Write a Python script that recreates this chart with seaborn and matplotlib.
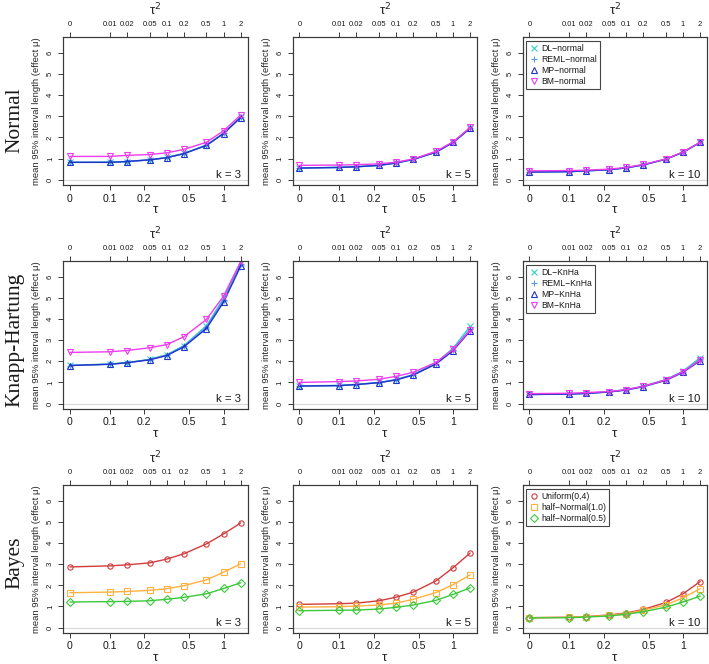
import numpy as np
import seaborn as sns
import matplotlib
matplotlib.use("Agg")
import matplotlib.pyplot as plt
from matplotlib.lines import Line2D

# x values: heterogeneity tau^2 (top axis) and tau (bottom axis)
tau2 = [0, 0.01, 0.02, 0.05, 0.1, 0.2, 0.5, 1, 2]
tau2_labels = ["0", "0.01", "0.02", "0.05", "0.1", "0.2", "0.5", "1", "2"]
tau_ticks = [0, 0.1, 0.2, 0.5, 1]
tau_labels = ["0", "0.1", "0.2", "0.5", "1"]
k_values = [3, 5, 10]
row_names = ["Normal", "Knapp-Hartung", "Bayes"]

# mean 95% interval length, normal approximation
dl_normal = {3: [0.82, 0.83, 0.86, 0.94, 1.05, 1.24, 1.64, 2.20, 2.97],
             5: [0.55, 0.58, 0.61, 0.68, 0.79, 0.96, 1.31, 1.77, 2.45],
             10: [0.36, 0.38, 0.42, 0.47, 0.56, 0.70, 0.97, 1.30, 1.77]}
reml_normal = {3: [0.82, 0.82, 0.86, 0.93, 1.04, 1.23, 1.63, 2.19, 2.95],
               5: [0.55, 0.58, 0.61, 0.68, 0.79, 0.96, 1.30, 1.76, 2.44],
               10: [0.36, 0.38, 0.42, 0.47, 0.56, 0.70, 0.97, 1.30, 1.76]}
mp_normal = {3: [0.82, 0.82, 0.86, 0.94, 1.04, 1.23, 1.62, 2.18, 2.94],
             5: [0.55, 0.58, 0.61, 0.68, 0.79, 0.96, 1.30, 1.76, 2.43],
             10: [0.36, 0.38, 0.42, 0.47, 0.56, 0.70, 0.97, 1.30, 1.76]}
bm_normal = {3: [1.10, 1.10, 1.15, 1.19, 1.27, 1.43, 1.77, 2.31, 3.06],
             5: [0.68, 0.69, 0.71, 0.75, 0.83, 0.98, 1.34, 1.79, 2.47],
             10: [0.42, 0.43, 0.45, 0.50, 0.58, 0.72, 0.98, 1.31, 1.77]}

# Knapp-Hartung adjustment
dl_knha = {3: [1.81, 1.87, 1.94, 2.09, 2.31, 2.74, 3.68, 4.98, 6.65],
           5: [0.84, 0.86, 0.91, 1.00, 1.14, 1.38, 1.93, 2.62, 3.66],
           10: [0.43, 0.46, 0.49, 0.56, 0.66, 0.82, 1.14, 1.54, 2.17]}
reml_knha = {3: [1.80, 1.86, 1.93, 2.08, 2.29, 2.71, 3.62, 4.90, 6.58],
             5: [0.83, 0.85, 0.90, 0.99, 1.13, 1.36, 1.89, 2.55, 3.52],
             10: [0.43, 0.45, 0.48, 0.55, 0.65, 0.81, 1.12, 1.51, 2.10]}
mp_knha = {3: [1.80, 1.86, 1.93, 2.07, 2.27, 2.68, 3.55, 4.80, 6.50],
           5: [0.83, 0.85, 0.90, 0.99, 1.12, 1.35, 1.87, 2.50, 3.44],
           10: [0.43, 0.45, 0.48, 0.55, 0.64, 0.80, 1.10, 1.48, 2.03]}
bm_knha = {3: [2.42, 2.45, 2.51, 2.64, 2.79, 3.16, 3.98, 5.08, 6.72],
           5: [1.00, 1.04, 1.07, 1.15, 1.29, 1.48, 1.95, 2.56, 3.47],
           10: [0.47, 0.49, 0.52, 0.57, 0.66, 0.82, 1.12, 1.51, 2.06]}

# Bayes, three priors for tau
unif_bayes = {3: [2.87, 2.92, 2.97, 3.06, 3.24, 3.49, 3.96, 4.43, 4.95],
              5: [1.10, 1.13, 1.16, 1.27, 1.44, 1.68, 2.21, 2.83, 3.53],
              10: [0.47, 0.49, 0.52, 0.60, 0.69, 0.86, 1.19, 1.60, 2.18]}
hn1_bayes = {3: [1.65, 1.68, 1.71, 1.76, 1.84, 1.98, 2.26, 2.62, 3.02],
             5: [0.97, 0.99, 1.02, 1.07, 1.16, 1.34, 1.66, 2.03, 2.50],
             10: [0.47, 0.49, 0.52, 0.58, 0.66, 0.82, 1.08, 1.41, 1.84]}
hn05_bayes = {3: [1.21, 1.23, 1.24, 1.27, 1.34, 1.43, 1.60, 1.85, 2.12],
              5: [0.80, 0.82, 0.83, 0.88, 0.96, 1.07, 1.29, 1.57, 1.88],
              10: [0.46, 0.47, 0.50, 0.55, 0.63, 0.75, 0.97, 1.21, 1.49]}

c_dl, c_reml, c_mp, c_bm = "#2ED0D0", "#5A9BE6", "#2233C8", "#EE3CEE"
c_unif, c_hn1, c_hn05 = "#D23C3C", "#FFB040", "#3CC83C"

rows = [
    [("DL\u2212normal", dl_normal, c_dl, "x"),
     ("REML\u2212normal", reml_normal, c_reml, "+"),
     ("MP\u2212normal", mp_normal, c_mp, "^"),
     ("BM\u2212normal", bm_normal, c_bm, "v")],
    [("DL\u2212KnHa", dl_knha, c_dl, "x"),
     ("REML\u2212KnHa", reml_knha, c_reml, "+"),
     ("MP\u2212KnHa", mp_knha, c_mp, "^"),
     ("BM\u2212KnHa", bm_knha, c_bm, "v")],
    [("Uniform(0,4)", unif_bayes, c_unif, "o"),
     ("half\u2212Normal(1.0)", hn1_bayes, c_hn1, "s"),
     ("half\u2212Normal(0.5)", hn05_bayes, c_hn05, "D")],
]

sns.set_style("white")
plt.rcParams["font.family"] = ["Liberation Sans", "DejaVu Sans"]
plt.rcParams["text.color"] = "#1a1a1a"

# log(tau) scale, with tau = 0 put a fixed gap left of tau = 0.1
GAP = 0.81
L01 = np.log(0.1)


def fwd(t):
    t = np.asarray(t, dtype=float)
    return np.where(t >= 0.1, np.log(np.maximum(t, 0.1)), L01 - GAP + t / 0.1 * GAP)


def inv(u):
    u = np.asarray(u, dtype=float)
    return np.where(u >= L01, np.exp(np.minimum(u, 50)), (u - L01 + GAP) / GAP * 0.1)


tau = np.sqrt(tau2)
u0, u1 = fwd(tau[0]), fwd(tau[-1])
du = 0.04 * (u1 - u0)
xlim = (float(inv(u0 - du)), float(inv(u1 + du)))
spine_col = "#3a3a3a"

fig = plt.figure(figsize=(7.09, 6.64), dpi=100)
lefts = [0.0889, 0.4126, 0.7370]
bottoms = [0.7211, 0.3839, 0.0465]
w, h = 0.2602, 0.2236
label_y = [120, 340, 563]

for r in range(3):
    for c in range(3):
        k = k_values[c]
        ax = fig.add_axes([lefts[c], bottoms[r], w, h])
        ax.set_xscale("function", functions=(fwd, inv))
        ax.axhline(0, color="#d8d8d8", lw=0.8, zorder=0)
        for name, vals, color, marker in rows[r]:
            sns.lineplot(x=tau, y=vals[k], ax=ax, color=color, marker=marker,
                         mfc="none", mec=color, ms=3.8, mew=0.8, lw=1.0,
                         legend=False)
        ax.set_xlim(xlim)
        ax.set_ylim(-0.26, 6.76)
        ax.set_xticks(tau_ticks)
        ax.set_xticklabels(tau_labels)
        ax.set_yticks(range(7))
        ax.tick_params(axis="x", labelsize=7.6, length=3.5, width=0.7, pad=2.5,
                       color=spine_col, labelcolor="#1a1a1a", bottom=True)
        ax.tick_params(axis="y", labelsize=5.6, length=3.5, width=0.7, pad=3,
                       color=spine_col, labelcolor="#1a1a1a", left=True,
                       labelrotation=90)
        for lab in ax.get_yticklabels():
            lab.set_va("center")
        ax.set_xlabel("\u03c4", fontsize=9.5)
        ax.xaxis.set_label_coords(0.5, -0.125)
        ax.set_ylabel("mean 95% interval length (effect \u03bc)", fontsize=6.8)
        ax.yaxis.set_label_coords(-0.118, 0.5)
        for s in ax.spines.values():
            s.set_color(spine_col)
            s.set_linewidth(0.8)
        ax.text(0.965, 0.07, f"k = {k}", transform=ax.transAxes,
                ha="right", va="center", fontsize=8.2)

        top = ax.twiny()
        top.set_xscale("function", functions=(fwd, inv))
        top.set_xlim(xlim)
        top.set_xticks(np.sqrt(tau2))
        top.set_xticklabels(tau2_labels)
        top.tick_params(axis="x", labelsize=5.5, length=3.5, width=0.7, pad=3,
                        color=spine_col, labelcolor="#1a1a1a")
        top.set_xlabel("\u03c4$^2$", fontsize=9.5)
        top.xaxis.set_label_coords(0.5, 1.145)
        for s in top.spines.values():
            s.set_color(spine_col)
            s.set_linewidth(0.8)

        if c == 2:
            handles = [Line2D([], [], color=col, marker=m, ls="none", mfc="none",
                              mec=col, ms=3.8, mew=0.8)
                       for _, _, col, m in rows[r]]
            names = [n for n, _, _, _ in rows[r]]
            leg = ax.legend(handles, names, loc="upper left",
                            bbox_to_anchor=(0.02, 0.968), fontsize=6.2,
                            frameon=True, fancybox=False, framealpha=1,
                            edgecolor="#444444", borderpad=0.35,
                            labelspacing=0.2, handlelength=1.0,
                            handletextpad=0.4, borderaxespad=0)
            leg.get_frame().set_linewidth(0.8)

    fig.text(19.5 / 709, 1 - label_y[r] / 664, row_names[r], rotation=90,
             rotation_mode="anchor", ha="center", va="baseline",
             fontsize=15.5, family=["Liberation Serif", "DejaVu Serif"])

fig.savefig("out.png", dpi=100)
